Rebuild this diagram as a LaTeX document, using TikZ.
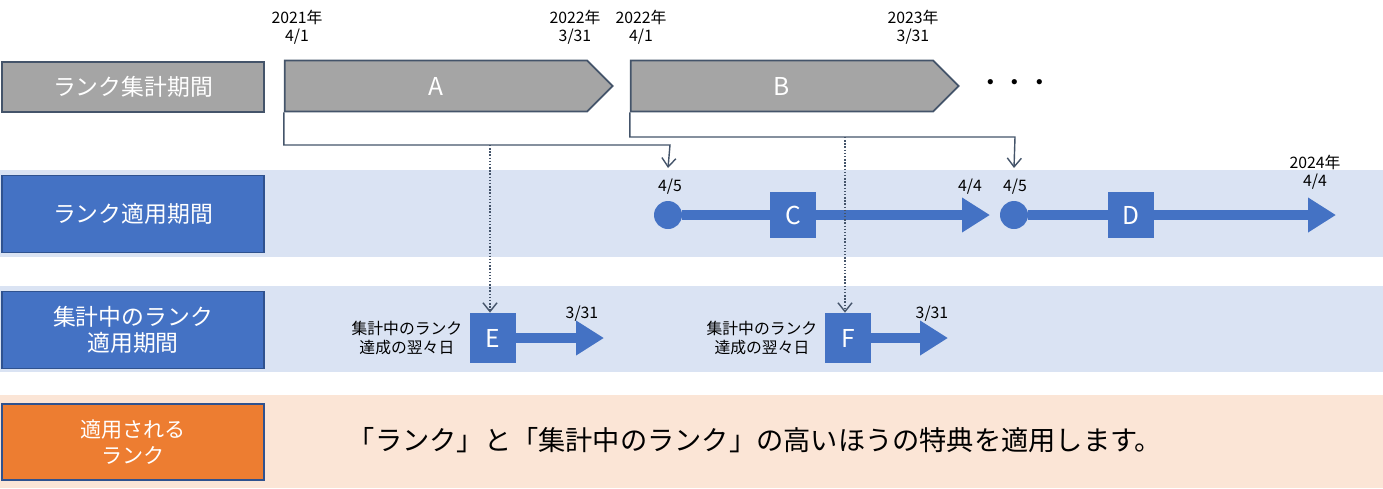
\documentclass[tikz,border=0pt]{standalone}
\usepackage{fontspec}
\setmainfont{Noto Sans CJK JP}
\usetikzlibrary{arrows.meta,positioning,shapes.symbols}
\definecolor{bandblue}{HTML}{DAE3F3}
\definecolor{bandpeach}{HTML}{FBE5D6}
\definecolor{rankgray}{HTML}{A5A5A5}
\definecolor{rankblue}{HTML}{4472C4}
\definecolor{rankorange}{HTML}{ED7D31}
\definecolor{edgeblue}{HTML}{2F528F}
\definecolor{lineblue}{HTML}{44546A}
\tikzset{
  rowlabel/.style={draw=edgeblue, line width=1pt, minimum width=5.24cm, text=white,
    font=\fontsize{13}{15}\selectfont, align=center, inner sep=0pt},
  period/.style={signal, signal to=east, draw=lineblue, line width=1pt, fill=rankgray,
    minimum width=6.56cm, minimum height=1.02cm, text=white, font=\fontsize{14}{16}\selectfont},
  sq/.style={fill=rankblue, minimum size=0.92cm, inner sep=0pt, text=white,
    font=\fontsize{14}{16}\selectfont},
  dot/.style={circle, fill=rankblue, minimum size=0.56cm, inner sep=0pt},
  small/.style={font=\fontsize{9}{10.5}\selectfont, align=center, inner sep=1pt},
  fat/.style={rankblue, line width=5.5pt, -{Triangle[width=0.66cm,length=0.56cm]}},
  elbow/.style={lineblue, line width=0.8pt, -{Straight Barb[length=5pt,width=8pt]}},
  dots/.style={lineblue, line width=0.8pt, densely dotted, -{Straight Barb[length=5pt,width=8pt]}}
}
\begin{document}
\begin{tikzpicture}[x=0.02cm, y=-0.02cm]
  \useasboundingbox (0,0) rectangle (1383,488);
  % bands
  \fill[bandblue] (0,170) rectangle (1383,257);
  \fill[bandblue] (0,286) rectangle (1383,372);
  \fill[bandpeach] (0,395) rectangle (1383,488);
  % row labels
  \node[rowlabel, fill=rankgray, draw=lineblue, minimum height=1.0cm] (lab1) at (133,87) {ランク集計期間};
  \node[rowlabel, fill=rankblue, minimum height=1.54cm] (lab2) at (133,214) {ランク適用期間};
  \node[rowlabel, fill=rankblue, minimum height=1.54cm] (lab3) at (133,330) {集計中のランク\\適用期間};
  \node[rowlabel, fill=rankorange, minimum height=1.52cm, font=\fontsize{12}{15}\selectfont] (lab4) at (133,442) {適用される\\ランク};
  % collection periods
  \node[period] (pA) at (436,86) {A};
  \node[period] (pB) at (782,86) {B};
  \node[font=\fontsize{14}{16}\selectfont] (more) at (1015,86) {・・・};
  \node[small] (tA1) at (297,27) {2021年\\4/1};
  \node[small] (tA2) at (575,27) {2022年\\3/31};
  \node[small] (tB1) at (641,27) {2022年\\4/1};
  \node[small] (tB2) at (913,27) {2023年\\3/31};
  % applied periods
  \node[dot] (sC) at (668,215) {};
  \coordinate (eC) at (990,215);
  \node[sq] (C) at (793,215) {C};
  \node[dot] (sD) at (1014,215) {};
  \coordinate (eD) at (1336,215);
  \node[sq] (D) at (1131,215) {D};
  \draw[fat] (sC) -- (eC);
  \draw[fat] (sD) -- (eD);
  \node[sq] at (C) {C};
  \node[sq] at (D) {D};
  \node[small] (tC1) at (670,187) {4/5};
  \node[small] (tC2) at (970,187) {4/4};
  \node[small] (tD1) at (1015,187) {4/5};
  \node[small] (tD2) at (1315,172) {2024年\\4/4};
  % current-rank periods
  \node[sq, minimum height=1.0cm] (E) at (493,338) {E};
  \coordinate (eE) at (604,338);
  \node[sq, minimum height=1.0cm] (F) at (848,338) {F};
  \coordinate (eF) at (948,338);
  \draw[fat] (E.east) -- (eE);
  \draw[fat] (F.east) -- (eF);
  \node[small] (tE) at (582,314) {3/31};
  \node[small] (tF) at (932,314) {3/31};
  \node[small, left=3pt of E] (nE) {集計中のランク\\達成の翌々日};
  \node[small, left=3pt of F] (nF) {集計中のランク\\達成の翌々日};
  % connectors
  \draw[elbow] (pA.south west) |- (670,145) -- (sC.north |- 0,168);
  \draw[elbow] (pB.south west) |- (1015,137) -- (sD.north |- 0,168);
  \draw[dots] (490,145) -- (E.north -| 490,0);
  \draw[dots] (845,137) -- (F.north -| 845,0);
  % applied rank
  \node[font=\fontsize{15.5}{18}\selectfont] (rule) at (755,440) {「ランク」と「集計中のランク」の高いほうの特典を適用します。};
\end{tikzpicture}
\end{document}
